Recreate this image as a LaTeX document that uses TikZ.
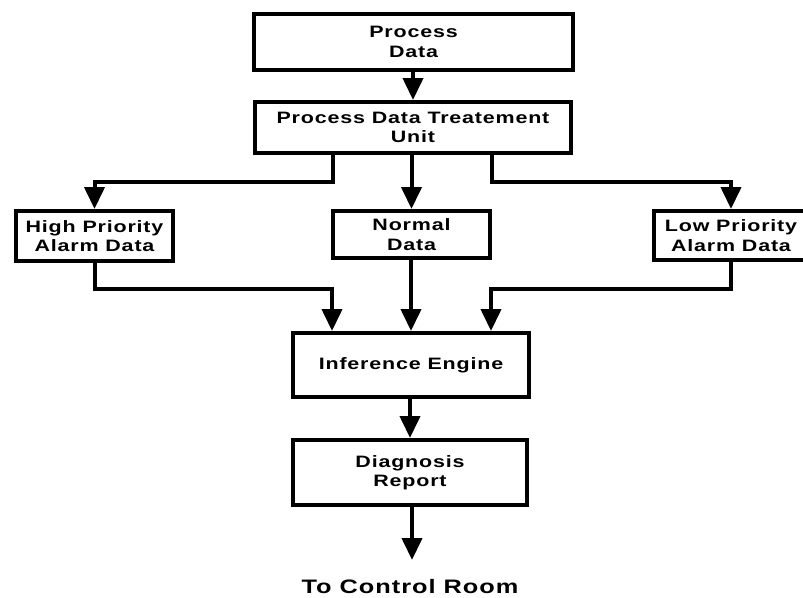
\documentclass[tikz,border=0pt]{standalone}
\usepackage{fontspec}
\setmainfont{Liberation Sans}[FakeStretch=1.3,LetterSpace=5]
\usetikzlibrary{arrows.meta}
\begin{document}
\begin{tikzpicture}[x=1pt,y=-1pt,
  box/.style={draw, line width=4pt, rectangle, align=center, inner sep=0pt,
    font=\fontsize{16.5}{19.5}\selectfont\bfseries},
  conn/.style={line width=4pt, -{Triangle[width=20pt,length=22pt]}}]
\useasboundingbox (0,0) rectangle (803,597);

% boxes of the processing chain
\node[box, minimum width=319pt, minimum height=56pt] (pd)   at (413.5,42)  {Process\\Data};
\node[box, minimum width=316pt, minimum height=51pt] (pdtu) at (413,127.5) {Process Data Treatement\\Unit};
\node[box, minimum width=157pt, minimum height=50pt] (hp)   at (94.5,236)  {High Priority\\Alarm Data};
\node[box, minimum width=157pt, minimum height=47pt] (nd)   at (411.5,234.5) {Normal\\Data};
\node[box, minimum width=154pt, minimum height=49pt] (lp)   at (731,235.5) {Low Priority\\Alarm Data};
\node[box, minimum width=236pt, minimum height=64pt] (ie)   at (411,365)   {Inference Engine};
\node[box, minimum width=234pt, minimum height=65pt] (dr)   at (410,472.5) {Diagnosis\\Report};
\node[font=\fontsize{19.5}{22}\selectfont\bfseries, inner sep=0pt] (cr) at (410,587) {To Control Room};
\coordinate (out) at (412,560);

% connectors
\draw[conn] (pd.south -| pdtu.north) -- (pdtu.north);
\draw[conn] ([xshift=-80pt]pdtu.south) -- ++(0,27) -| (hp.north);
\draw[conn] (pdtu.south -| nd.north) -- (nd.north);
\draw[conn] ([xshift=79pt]pdtu.south) -- ++(0,27) -| (lp.north);
\draw[conn] (hp.south) -- ++(0,26) -| ([xshift=-79pt]ie.north);
\draw[conn] (nd.south -| ie.north) -- (ie.north);
\draw[conn] (lp.south) -- ++(0,27) -| ([xshift=80pt]ie.north);
\draw[conn] (ie.south -| dr.north) -- (dr.north);
\draw[conn] (dr.south -| out) -- (out);
\end{tikzpicture}
\end{document}
